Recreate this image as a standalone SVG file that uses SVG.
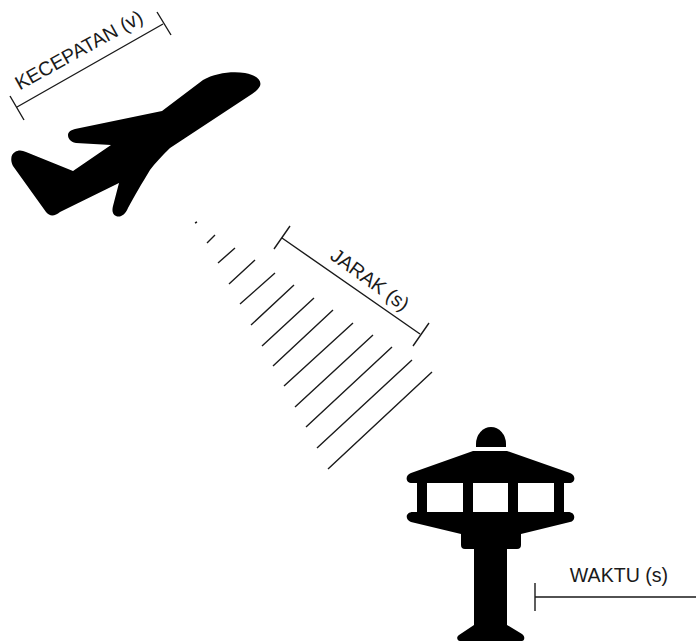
<svg xmlns="http://www.w3.org/2000/svg" width="696" height="641" viewBox="0 0 696 641">
<style>
.l{stroke:#1a1a1a;stroke-width:1.4;fill:none}
.t{font-family:"Liberation Sans",Arial,sans-serif;font-size:19.6px;fill:#1a1a1a;text-anchor:middle}
.k{fill:#000}
</style>
<rect width="696" height="641" fill="#fff"/>
<g id="plane"><path class="k" d="M203 80C215 73 232 71 245 73C257 75 262 81 260 86C258 90 255 92 252 94L170 148C162 156 155 163 150 170C142 183 134 197 128 208C125 215 120 218 116 216C112 214 112 210 113 206L119 183L60 212C55 216 50 217 46 212L13 166C10 160 11 154 15 152C18 150 22 150 26 152L73 171L111 145L76 143C70 142 68 138 68 135C68 132 71 130 75 129L162 111Z"/></g>
<g id="tower"><path class="k" d="M476 447V444A15 17 0 0 1 506 444V447Z"/>
<path class="k" fill-rule="evenodd" d="M473 451H507L570 473C576 475 576 483 569 483H564V512H568C576 512 576 521 570 522L521 534V545Q521 549 517 549H507V625L522 634C526 637 524 641 522 641H460C457 641 456 637 459 635L474 625V549H465Q461 549 461 545V534L411 522C405 520 405 512 413 512H417V483H412C405 483 405 475 411 473ZM427 483V512H463V483ZM473 483V512H508V483ZM518 483V512H554V483Z"/></g>
<g id="connectors">
<path class="l" d="M17 107L163 24M10 96L24 120M157 12L171 35"/>
<path class="l" d="M282 238L420 334M274 249L290 226M413 346L429 323"/>
<path class="l" d="M535 597H696M535 583V611"/>
<path class="l" d="M195 223L197 222M207 243L215 235M218 263L235 248M229 284L255 260M240 304L275 273M251 325L294 285M262 346L314 298M273 366L333 310M284 386L353 323M295 407L373 335M306 427L392 347M317 448L412 360M328 469L432 372"/>
</g>
<text class="t" transform="translate(82 56) rotate(-29)">KECEPATAN (v)</text>
<text class="t" transform="translate(366 285) rotate(36)">JARAK (s)</text>
<text class="t" x="619" y="582">WAKTU (s)</text>
</svg>
